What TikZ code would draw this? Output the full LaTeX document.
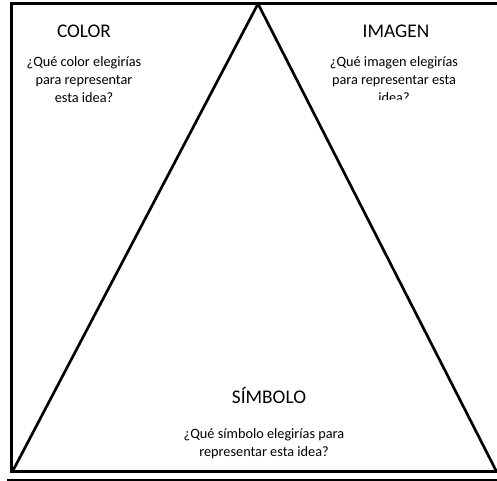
\documentclass[tikz,border=0pt]{standalone}
\usepackage{fontspec}
\setmainfont{Carlito}

\tikzset{every picture/.style={line width=0.75pt}}
\tikzset{titulo/.style={font=\fontsize{14.5}{16}\selectfont, inner sep=0.75pt},
  pregunta/.style={font=\fontsize{10.7}{13.5}\selectfont, align=center, inner sep=0.75pt}}

\begin{document}
\begin{tikzpicture}[x=0.75pt,y=0.75pt,yscale=-1,xscale=1]
\useasboundingbox (0,0) rectangle (497,481);

%Shape: Frame [id:marco]
\draw [line width=2.25]  (497,3.75) -- (11.75,3.75) -- (11.75,471.5) -- (497,471.5) ;
%Shape: Triangle [id:triangulo]
\draw [line width=2] [line join=round]  (12.5,471.5) -- (258,3.75) -- (496.5,471.5) ;
%Straight Lines [id:linea_base]
\draw [line width=1.5]    (7,480) -- (497,480) ;

% Text Node
\node [titulo] (color) at (84,31) {COLOR};
% Text Node
\node [pregunta] (pcolor) at (84,80) {¿Qué color elegirías\\para representar\\esta idea?};
% Text Node
\node [titulo] (imagen) at (396,31) {IMAGEN};
% Text Node
\begin{scope}
\clip (300,40) rectangle (490,99.5);
\node [pregunta] (pimagen) at (394,80) {¿Qué imagen elegirías\\para representar esta\\idea?};
\end{scope}
% Text Node
\node [titulo] (simbolo) at (269,395) {SÍMBOLO};
% Text Node
\node [pregunta] (psimbolo) at (264,443.5) {¿Qué símbolo elegirías para\\representar esta idea?};

\end{tikzpicture}
\end{document}
